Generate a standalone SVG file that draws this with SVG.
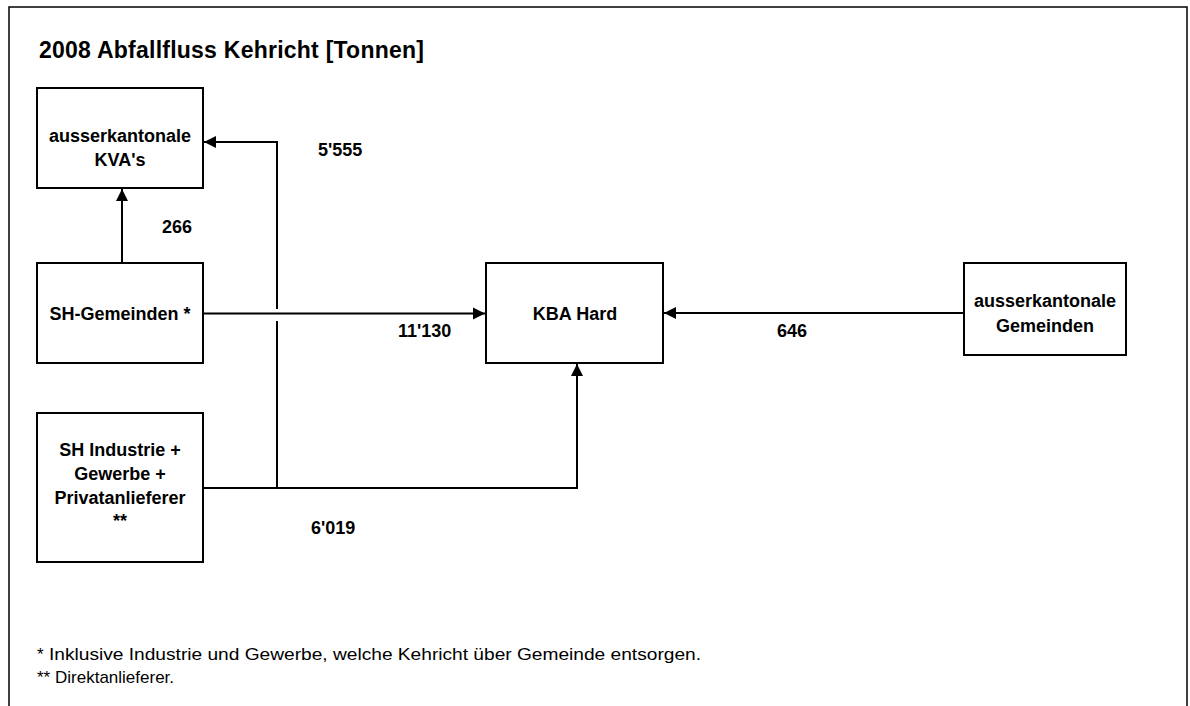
<svg xmlns="http://www.w3.org/2000/svg" width="1190" height="706" viewBox="0 0 1190 706">
<style>
.box{fill:#fff;stroke:#000;stroke-width:2}
.t{font-family:"Liberation Sans",Arial,sans-serif;font-weight:bold;font-size:18px;fill:#000;text-anchor:middle}
.lbl{font-family:"Liberation Sans",Arial,sans-serif;font-weight:bold;font-size:18px;fill:#000}
.fn{font-family:"Liberation Sans",Arial,sans-serif;font-size:17px;fill:#000}
.c{fill:none;stroke:#000;stroke-width:2}
</style>
<defs>
<marker id="ah" markerUnits="userSpaceOnUse" markerWidth="13" markerHeight="13" viewBox="0 0 13 13" refX="12" refY="6.5" orient="auto">
<path d="M0,0.5 L12,6.5 L0,12.5 Z" fill="#000"/>
</marker>
</defs>
<rect width="1190" height="706" fill="#fff"/>
<path d="M9,706 V7 H1187 V706" fill="none" stroke="#000" stroke-width="1.5"/>
<text x="39" y="58" textLength="385" lengthAdjust="spacing" style="font-family:'Liberation Sans',Arial,sans-serif;font-weight:bold;font-size:23px">2008 Abfallfluss Kehricht [Tonnen]</text>
<g id="connectors">
<path class="c" d="M122,263 V189" marker-end="url(#ah)"/>
<path class="c" d="M203,313.5 H485" marker-end="url(#ah)"/>
<path class="c" d="M203,488 H577 V364" marker-end="url(#ah)"/>
<path class="c" d="M277,488 V321 M277,309 V142 H204" marker-end="url(#ah)"/>
<path class="c" d="M964,313 H664" marker-end="url(#ah)"/>
</g>
<g id="kva">
<rect class="box" x="37" y="88" width="166" height="100"/>
<text class="t" x="120" y="142">ausserkantonale</text>
<text class="t" x="120" y="166">KVA's</text>
</g>
<g id="sh-gemeinden">
<rect class="box" x="37" y="263" width="166" height="100"/>
<text class="t" x="120" y="320">SH-Gemeinden *</text>
</g>
<g id="kba-hard">
<rect class="box" x="486" y="263" width="177" height="100"/>
<text class="t" x="575" y="320">KBA Hard</text>
</g>
<g id="ausserkantonale-gemeinden">
<rect class="box" x="964" y="263" width="162" height="92"/>
<text class="t" x="1045" y="307">ausserkantonale</text>
<text class="t" x="1045" y="332">Gemeinden</text>
</g>
<g id="sh-industrie">
<rect class="box" x="37" y="413" width="166" height="149"/>
<text class="t" x="120" y="456">SH Industrie +</text>
<text class="t" x="120" y="480">Gewerbe +</text>
<text class="t" x="120" y="504">Privatanlieferer</text>
<text class="t" x="120" y="527">**</text>
</g>
<g id="labels">
<text class="lbl" x="318" y="156">5'555</text>
<text class="lbl" x="162" y="233">266</text>
<text class="lbl" x="398" y="337">11'130</text>
<text class="lbl" x="777" y="337">646</text>
<text class="lbl" x="311" y="534">6'019</text>
</g>
<g id="footnotes">
<text class="fn" y="660"><tspan x="37">*</tspan><tspan x="49" textLength="652" lengthAdjust="spacingAndGlyphs">Inklusive Industrie und Gewerbe, welche Kehricht über Gemeinde entsorgen.</tspan></text>
<text class="fn" y="683"><tspan x="37">**</tspan><tspan x="55">Direktanlieferer.</tspan></text>
</g>
</svg>
